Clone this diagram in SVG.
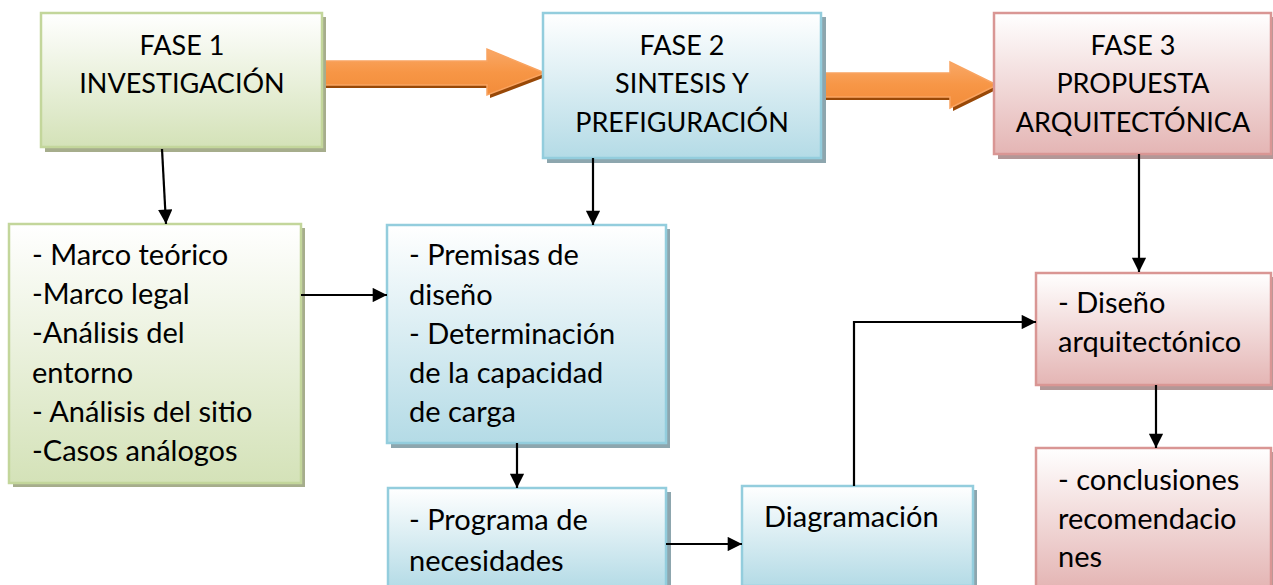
<svg xmlns="http://www.w3.org/2000/svg" width="1273" height="585" viewBox="0 0 1273 585">
<defs>
<linearGradient id="gG" x1="0" y1="0" x2="0" y2="1"><stop offset="0" stop-color="#ffffff"/><stop offset="1" stop-color="#d4e2b8"/></linearGradient>
<linearGradient id="gB" x1="0" y1="0" x2="0" y2="1"><stop offset="0" stop-color="#ffffff"/><stop offset="1" stop-color="#b4dbe6"/></linearGradient>
<linearGradient id="gR" x1="0" y1="0" x2="0" y2="1"><stop offset="0" stop-color="#ffffff"/><stop offset="1" stop-color="#e4b5b4"/></linearGradient>
<linearGradient id="gO" x1="0" y1="0" x2="0" y2="1"><stop offset="0" stop-color="#f9a867"/><stop offset="0.5" stop-color="#f79646"/><stop offset="1" stop-color="#f28c3a"/></linearGradient>
<marker id="ah" viewBox="0 0 10 10" refX="10" refY="5" markerWidth="7" markerHeight="6.5" markerUnits="strokeWidth" orient="auto"><path d="M0,0 L10,5 L0,10 z" fill="#000"/></marker>
</defs>
<style>
.t{font-family:Lato,"Liberation Sans",sans-serif;font-size:27px;fill:#000}
.b{font-size:29px}
.c{text-anchor:middle}
.sg{fill:#a6ad8c}.sb{fill:#8da6ae}.sr{fill:#b39797}
.bg{fill:url(#gG);stroke:#c3d69b;stroke-width:2.5}
.bb{fill:url(#gB);stroke:#93cddd;stroke-width:2.5}
.br{fill:url(#gR);stroke:#d99694;stroke-width:2.5}
.ln{fill:none;stroke:#000;stroke-width:2.2;marker-end:url(#ah)}
.oa{fill:url(#gO);stroke:#f9a461;stroke-width:1.5}
.os{fill:#984807}
</style>
<rect width="1273" height="585" fill="#fff"/>

<g id="arrows-big">
<polygon class="os" points="323,64 490,64 490,52 548,76 490,98 490,88 323,88"/>
<polygon class="oa" points="320,61 487,61 487,49 545,73 487,95 487,85 320,85"/>
<polygon class="os" points="821,76 953,76 953,65 1000,88 953,111 953,100 821,100"/>
<polygon class="oa" points="818,73 950,73 950,62 997,85 950,108 950,97 818,97"/>
</g>

<g id="fase1">
<rect class="sg" x="45" y="17" width="281" height="135"/>
<rect class="bg" x="41" y="13" width="281" height="134"/>
<text class="t c" x="182" y="55">FASE 1</text>
<text class="t c" x="182" y="93">INVESTIGACIÓN</text>
</g>
<g id="fase2">
<rect class="sb" x="547" y="17" width="279" height="146"/>
<rect class="bb" x="543" y="13" width="278" height="145"/>
<text class="t c" x="682" y="55">FASE 2</text>
<text class="t c" x="682" y="93">SINTESIS Y</text>
<text class="t c" x="682" y="132">PREFIGURACIÓN</text>
</g>
<g id="fase3">
<rect class="sr" x="998" y="17" width="278" height="142"/>
<rect class="br" x="994" y="13" width="277" height="141"/>
<text class="t c" x="1133" y="55">FASE 3</text>
<text class="t c" x="1133" y="93">PROPUESTA</text>
<text class="t c" x="1133" y="132">ARQUITECTÓNICA</text>
</g>
<g id="investigacion">
<rect class="sg" x="13" y="228" width="292" height="259"/>
<rect class="bg" x="9" y="224" width="292" height="259"/>
<text class="t b" x="32" y="265">- Marco teórico</text>
<text class="t b" x="32" y="304">-Marco legal</text>
<text class="t b" x="32" y="343">-Análisis del</text>
<text class="t b" x="32" y="383">entorno</text>
<text class="t b" x="32" y="422">- Análisis del sitio</text>
<text class="t b" x="32" y="461">-Casos análogos</text>
</g>
<g id="premisas">
<rect class="sb" x="391" y="229" width="279" height="219"/>
<rect class="bb" x="387" y="225" width="279" height="218"/>
<text class="t b" x="409" y="265">- Premisas de</text>
<text class="t b" x="409" y="305">diseño</text>
<text class="t b" x="409" y="344">- Determinación</text>
<text class="t b" x="409" y="383">de la capacidad</text>
<text class="t b" x="409" y="422">de carga</text>
</g>
<g id="programa">
<rect class="sb" x="392" y="492" width="279" height="100"/>
<rect class="bb" x="388" y="488" width="278" height="100"/>
<text class="t b" x="409" y="530">- Programa de</text>
<text class="t b" x="409" y="571">necesidades</text>
</g>
<g id="diagramacion">
<rect class="sb" x="746" y="490" width="231" height="100"/>
<rect class="bb" x="742" y="486" width="231" height="100"/>
<text class="t b" x="764" y="527">Diagramación</text>
</g>
<g id="diseno">
<rect class="sr" x="1040" y="277" width="236" height="113"/>
<rect class="br" x="1036" y="273" width="235" height="112"/>
<text class="t b" x="1058" y="313">- Diseño</text>
<text class="t b" x="1058" y="352">arquitectónico</text>
</g>
<g id="conclusiones">
<rect class="sr" x="1040" y="452" width="236" height="140"/>
<rect class="br" x="1036" y="448" width="235" height="140"/>
<text class="t b" x="1058" y="490">- conclusiones</text>
<text class="t b" x="1058" y="529">recomendacio</text>
<text class="t b" x="1058" y="567">nes</text>
</g>

<g id="connectors">
<path class="ln" d="M162,149 L166,224"/>
<path class="ln" d="M593,158 L593,225"/>
<path class="ln" d="M1139,154 L1139,272"/>
<path class="ln" d="M301,295 L387,295"/>
<path class="ln" d="M517,443 L517,488"/>
<path class="ln" d="M666,544 L742,544"/>
<path class="ln" d="M854,486 L854,322 L1036,322"/>
<path class="ln" d="M1156,385 L1156,448"/>
</g>
</svg>
